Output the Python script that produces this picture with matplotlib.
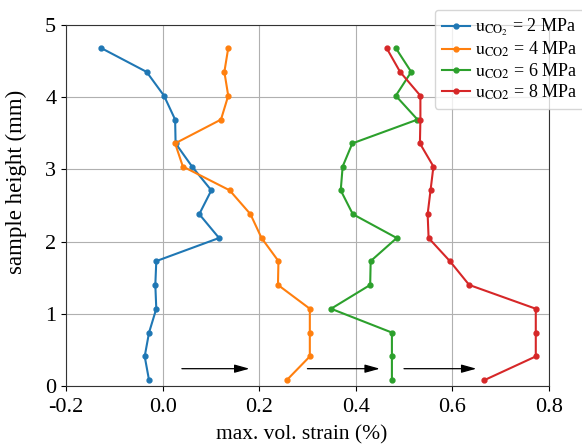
import matplotlib
matplotlib.use("Agg")
import matplotlib.pyplot as plt

plt.rcParams['font.family'] = ['Liberation Serif', 'DejaVu Serif']
plt.rcParams['mathtext.fontset'] = 'stix'
plt.rcParams['axes.formatter.use_mathtext'] = False
plt.rcParams['axes.unicode_minus'] = False

heights = [0.08, 0.41, 0.74, 1.07, 1.40, 1.73, 2.05, 2.38, 2.71, 3.04, 3.36, 3.69, 4.02, 4.35, 4.68]
strain_2mpa = [-0.028, -0.037, -0.028, -0.013, -0.015, -0.013, 0.117, 0.076, 0.101, 0.061, 0.027, 0.026, 0.003, -0.033, -0.127]
strain_4mpa = [0.257, 0.305, 0.305, 0.305, 0.239, 0.240, 0.205, 0.182, 0.139, 0.042, 0.026, 0.121, 0.136, 0.128, 0.136]
strain_6mpa = [0.475, 0.475, 0.475, 0.349, 0.430, 0.431, 0.485, 0.394, 0.369, 0.373, 0.393, 0.528, 0.483, 0.515, 0.483]
strain_8mpa = [0.666, 0.773, 0.773, 0.773, 0.635, 0.595, 0.551, 0.549, 0.555, 0.561, 0.533, 0.534, 0.534, 0.492, 0.464]
labels = [r"$\mathrm{u_{CO_2}}$ = 2 MPa", r"$\mathrm{u_{CO2}}$ = 4 MPa",
          r"$\mathrm{u_{CO2}}$ = 6 MPa", r"$\mathrm{u_{CO2}}$ = 8 MPa"]
colors = ['#1f77b4', '#ff7f0e', '#2ca02c', '#d62728']
arrow_starts = [0.04, 0.30, 0.50]
arrow_ends = [0.18, 0.45, 0.65]
arrow_y = 0.24

fig = plt.figure(figsize=(5.82, 4.46), dpi=100)
ax = fig.add_axes([0.1134, 0.1345, 0.8296, 0.8095])

for xs, lab, c in zip([strain_2mpa, strain_4mpa, strain_6mpa, strain_8mpa], labels, colors):
    ax.plot(xs, heights, '-o', color=c, lw=1.5, ms=3.5, label=lab)

for x0, x1 in zip(arrow_starts, arrow_ends):
    ax.annotate('', xy=(x1, arrow_y), xytext=(x0, arrow_y),
                arrowprops=dict(arrowstyle='-|>,head_length=0.9,head_width=0.25',
                                color='black', lw=0.9, shrinkA=0, shrinkB=0))

ax.set_xlim(-0.2, 0.8)
ax.set_ylim(0, 5)
ax.set_xticks([-0.2, 0.0, 0.2, 0.4, 0.6, 0.8])
ax.set_xticklabels(['-0.2', '0.0', '0.2', '0.4', '0.6', '0.8'])
ax.set_yticks([0, 1, 2, 3, 4, 5])
ax.grid(True, color='#b0b0b0', lw=0.8)
ax.tick_params(labelsize=16)
ax.tick_params(axis='x', pad=5)
ax.set_xlabel('max. vol. strain (%)', fontsize=15.5)
ax.set_ylabel('sample height (mm)', fontsize=16.5)
ax.xaxis.set_label_coords(0.488, -0.11)
ax.yaxis.set_label_coords(-0.08, 0.566)
for s in ax.spines.values():
    s.set_color('#333333')

leg = ax.legend(loc='upper right', bbox_to_anchor=(1.005, 0.978), bbox_transform=fig.transFigure,
                fontsize=13, handlelength=1.55, borderpad=0.4, labelspacing=0.1,
                handletextpad=0.3, borderaxespad=0.0, framealpha=0.8)

fig.savefig('out.png', dpi=100)
